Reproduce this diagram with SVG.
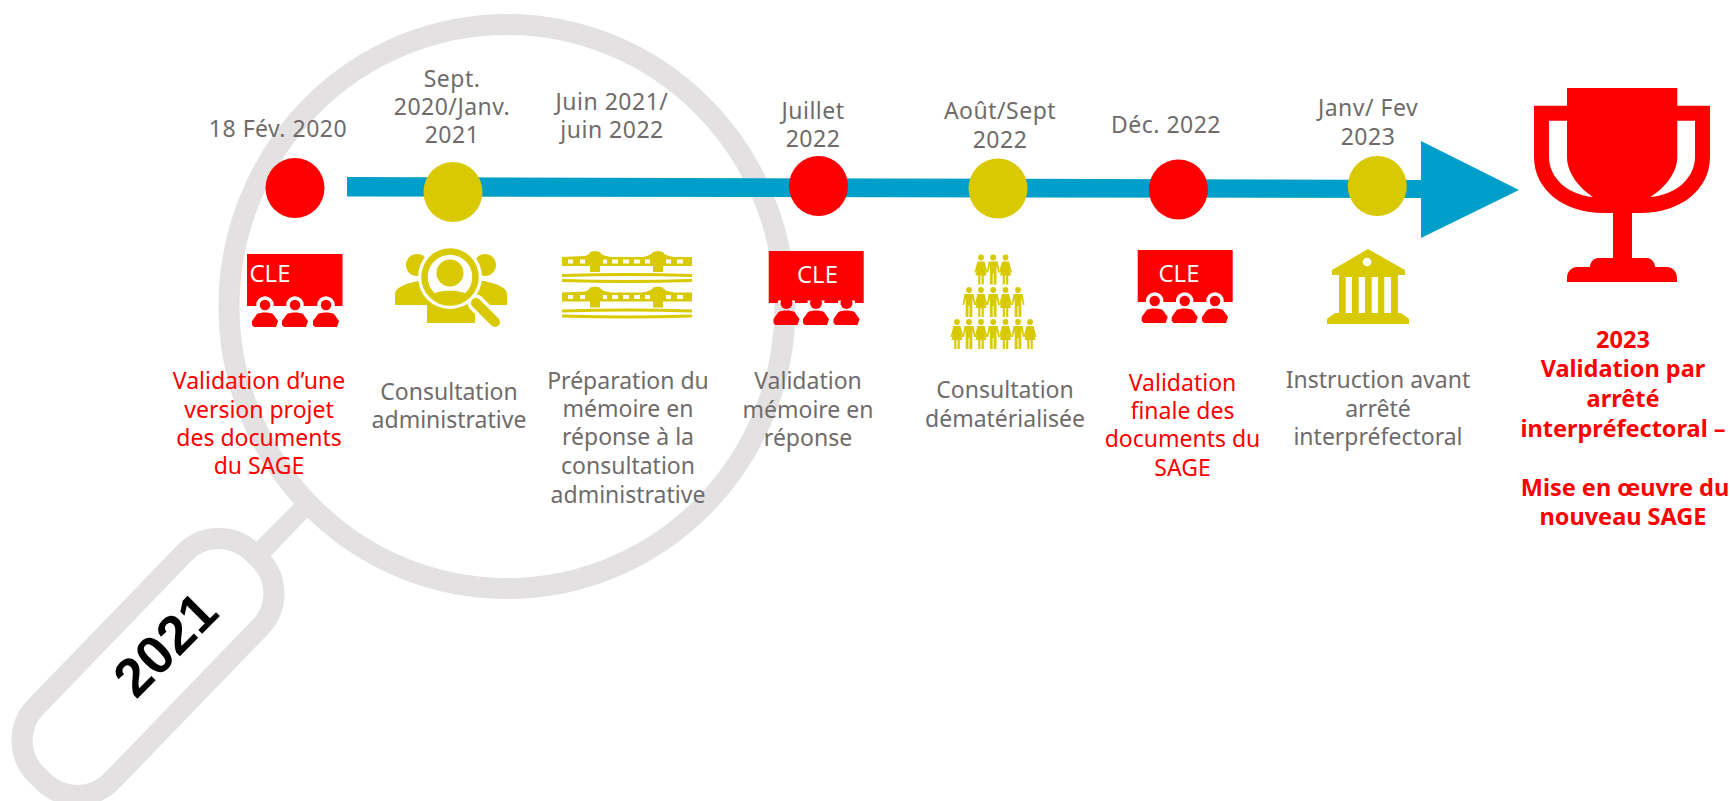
<svg xmlns="http://www.w3.org/2000/svg" xmlns:xlink="http://www.w3.org/1999/xlink" width="1730" height="801" viewBox="0 0 1730 801">
<style>
text{font-family:"Noto Sans","Open Sans","Liberation Sans",sans-serif;font-size:23px;text-anchor:middle;fill:#6f6b6b}
.d{letter-spacing:.5px}
.r{fill:#f00}
.b{fill:#f00;font-weight:700;font-size:23.500px}
.red{fill:#f00}
.yel{fill:#d9c900}
.ring{fill:none;stroke:#e3e1e2;stroke-width:21}
.cle{font-size:24px;fill:#fff;font-family:"Open Sans","Noto Sans",sans-serif}
</style>
<defs>
<path id="torso" class="red" d="M-13,20 L-13,16 L-8,9 C-4,7 4,7 8,9 L13,16 L11,22 L-11,22 Z"/>
<g id="att"><circle cx="0" cy="0" r="7" class="red" stroke="#fff" stroke-width="3.500"/><use xlink:href="#torso" href="#torso"/></g>
<g id="att2"><rect x="-8.500" y="-2.500" width="17" height="3" fill="#fff"/><circle cx="0" cy="0" r="6" class="red"/><use xlink:href="#torso" href="#torso"/></g>
<g id="man" class="yel"><circle cx="0" cy="3" r="2.900"/><path d="M-4.500,7 H4.500 L6.500,18 L5,18 L3.300,11 V30 H0.500 V19 H-0.500 V30 H-3.300 V11 L-5,18 L-6.500,18 Z"/></g>
<g id="wom" class="yel"><circle cx="0" cy="3" r="2.900"/><path d="M-3.500,7 H3.500 L6.500,18 H5 L3.500,13 L5.500,21 H2.800 V30 H0.600 V21 H-0.600 V30 H-2.800 V21 H-5.500 L-3.500,13 L-5,18 H-6.500 Z"/></g>
<g id="bridge" class="yel"><path d="M562,257 L585,256 C589,255 590,253 590,252 L595,251 L600,252 C600,253 602,256 612,257 H642 C650,256 653,253 653,252 L658,251 L663,252 C663,254 668,256 674,257 L692,257 V266 H663 V272 H653 V266 H600 V272 H590 V266 H562 Z"/><path d="M568,259.500h5v4h-5zM580,259.500h5v4h-5zM603,259.500h4v4h-4zM612,259.500h6v4h-6zM623,259.500h6v4h-6zM634,259.500h6v4h-6zM645,259.500h5v4h-5zM666,259.500h5v4h-5zM677,259.500h6v4h-6z" fill="#fff"/><path d="M562,274 Q627,272 692,274 V277 Q627,275 562,277 Z M562,279 Q627,281 692,279 V282 Q627,284 562,282 Z"/></g>
</defs>

<g id="magnifier">
<ellipse class="ring" cx="507" cy="306.500" rx="278" ry="282"/>
<path d="M297,501 L309,516 L267,560 L253,545 Z" fill="#e3e1e2"/>
<rect class="ring" x="-155" y="-53" width="310" height="106" rx="48" transform="translate(148,667) rotate(-46)"/>
<text transform="translate(165,644) rotate(-45)" y="19" style="font-family:'Liberation Sans',sans-serif;font-size:54px;font-weight:700;fill:#000">2021</text>
</g>

<g id="connectors">
<path id="timeline" d="M347,177 L1421,180 V141 L1519,190 L1421,238 V198 L347,196.500 Z" fill="#009fca"/>
</g>

<g id="n1"><ellipse class="red" cx="295" cy="188" rx="29.500" ry="30"/>
<text class="d" x="278" y="137">18 Fév. 2020</text>
<rect class="red" x="247" y="254" width="95.500" height="52"/><text class="cle" x="270" y="282">CLE</text>
<use xlink:href="#att" href="#att" x="265" y="305"/><use xlink:href="#att" href="#att" x="295" y="305"/><use xlink:href="#att" href="#att" x="326" y="305"/>
<text class="r"><tspan x="259" y="389">Validation d’une</tspan><tspan x="259" y="418">version projet</tspan><tspan x="259" y="446">des documents</tspan><tspan x="259" y="474">du SAGE</tspan></text></g>

<g id="n2"><ellipse class="yel" cx="453" cy="192" rx="29.500" ry="30"/>
<text class="d"><tspan x="452" y="87">Sept.</tspan><tspan x="452" y="115">2020/Janv.</tspan><tspan x="452" y="143">2021</tspan></text>
<g class="yel">
<circle cx="417" cy="265" r="11"/><circle cx="485" cy="265" r="11"/>
<path d="M395,305 V294 C395,288 404,284 418,281 H430 V305 Z"/>
<path d="M507,305 V294 C507,288 498,284 484,281 H472 V305 Z"/>
<path d="M427,323 V300 H475 V323 Z"/>
<circle cx="450" cy="277" r="32" fill="#fff"/>
<path d="M476,303 L495,322" fill="none" stroke="#fff" stroke-width="17" stroke-linecap="round"/>
<circle cx="450" cy="277" r="25.500" fill="none" stroke="#d9c900" stroke-width="6.500"/>
<circle cx="450" cy="273" r="13.500"/>
<path d="M431,296 C436,289 464,289 469,296 C462,303 438,303 431,296 Z"/>
<path d="M476,303 L495,322" fill="none" stroke="#d9c900" stroke-width="10" stroke-linecap="round"/>
</g>
<text><tspan x="449" y="400">Consultation</tspan><tspan x="449" y="428">administrative</tspan></text></g>

<g id="n3">
<text class="d"><tspan x="612" y="110">Juin 2021/</tspan><tspan x="612" y="138">juin 2022</tspan></text>
<use xlink:href="#bridge" href="#bridge"/><use xlink:href="#bridge" href="#bridge" y="35.500"/>
<text><tspan x="628" y="389">Préparation du</tspan><tspan x="628" y="417">mémoire en</tspan><tspan x="628" y="445">réponse à la</tspan><tspan x="628" y="474">consultation</tspan><tspan x="628" y="503">administrative</tspan></text></g>

<g id="n4"><ellipse class="red" cx="818.500" cy="186" rx="29.500" ry="30"/>
<text class="d"><tspan x="813" y="119">Juillet</tspan><tspan x="813" y="147">2022</tspan></text>
<rect class="red" x="768.700" y="251" width="95" height="52"/><text class="cle" x="817.500" y="283">CLE</text>
<use xlink:href="#att2" href="#att2" x="786.500" y="303"/><use xlink:href="#att2" href="#att2" x="816" y="303"/><use xlink:href="#att2" href="#att2" x="846.500" y="303"/>
<text><tspan x="808" y="389">Validation</tspan><tspan x="808" y="418">mémoire en</tspan><tspan x="808" y="446">réponse</tspan></text></g>

<g id="n5"><ellipse class="yel" cx="998" cy="188.500" rx="29.500" ry="30"/>
<text class="d"><tspan x="1000" y="119">Août/Sept</tspan><tspan x="1000" y="148">2022</tspan></text>
<use xlink:href="#wom" href="#wom" x="981" y="254.500"/><use xlink:href="#man" href="#man" x="993.200" y="254.500"/><use xlink:href="#wom" href="#wom" x="1005.500" y="254.500"/>
<use xlink:href="#man" href="#man" x="969" y="287"/><use xlink:href="#wom" href="#wom" x="981" y="287"/><use xlink:href="#man" href="#man" x="993.200" y="287"/><use xlink:href="#wom" href="#wom" x="1005.500" y="287"/><use xlink:href="#man" href="#man" x="1018" y="287"/>
<use xlink:href="#wom" href="#wom" x="957" y="319"/><use xlink:href="#man" href="#man" x="969" y="319"/><use xlink:href="#wom" href="#wom" x="981" y="319"/><use xlink:href="#man" href="#man" x="993.200" y="319"/><use xlink:href="#wom" href="#wom" x="1005.500" y="319"/><use xlink:href="#man" href="#man" x="1018" y="319"/><use xlink:href="#wom" href="#wom" x="1030" y="319"/>
<text><tspan x="1005" y="398">Consultation</tspan><tspan x="1005" y="427">dématérialisée</tspan></text></g>

<g id="n6"><ellipse class="red" cx="1178.400" cy="189.500" rx="29.500" ry="30"/>
<text class="d" x="1166" y="133">Déc. 2022</text>
<rect class="red" x="1137.700" y="250" width="95" height="52"/><text class="cle" x="1179" y="282">CLE</text>
<use xlink:href="#att" href="#att" x="1154.700" y="301"/><use xlink:href="#att" href="#att" x="1184.700" y="301"/><use xlink:href="#att" href="#att" x="1215" y="301"/>
<text class="r"><tspan x="1182.500" y="391">Validation</tspan><tspan x="1182.500" y="419">finale des</tspan><tspan x="1182.500" y="447">documents du</tspan><tspan x="1182.500" y="476">SAGE</tspan></text></g>

<g id="n7"><ellipse class="yel" cx="1377.300" cy="186" rx="29.500" ry="30"/>
<text class="d"><tspan x="1368" y="116">Janv/ Fev</tspan><tspan x="1368" y="145">2023</tspan></text>
<path class="yel" fill-rule="evenodd" d="M1368,249 L1405,270 V275 H1398 V313 H1401 L1409,319 V324 H1327 V319 L1335,313 H1339 V275 H1332 V270 Z M1345.700,277 V313 H1352 V277 Z M1358.700,277 V313 H1365 V277 Z M1371.700,277 V313 H1378 V277 Z M1384.300,277 V313 H1391 V277 Z"/>
<circle cx="1367" cy="262" r="4.300" fill="#fff"/>
<text><tspan x="1378" y="388">Instruction avant</tspan><tspan x="1378" y="417">arrêté</tspan><tspan x="1378" y="445">interpréfectoral</tspan></text></g>

<g id="n8">
<path class="red" d="M1567,88 H1677.300 V105.700 H1710 V157 C1710,190 1680,213 1640,213 H1632 V258 H1647 C1651,258 1655,262 1655,267 H1667 C1673,267 1677,272 1677,278 V282 H1567 V278 C1567,272 1571,267 1577,267 H1590 C1590,262 1594,258 1598,258 H1613 V213 H1604 C1564,213 1534,190 1534,157 V105.700 H1567 Z"/>
<path fill="#fff" d="M1549,120.700 H1567 V157 C1567,172 1578,187 1593,197 C1568,195 1549,178 1549,157 Z M1695,120.700 H1677.300 V157 C1677.300,172 1666,187 1650.500,197 C1676,195 1695,178 1695,157 Z"/>
<text class="b"><tspan x="1623" y="348">2023</tspan><tspan x="1623" y="377">Validation par</tspan><tspan x="1623" y="407">arrêté</tspan><tspan x="1623" y="437">interpréfectoral –</tspan><tspan x="1625" y="496">Mise en œuvre du</tspan><tspan x="1623" y="525">nouveau SAGE</tspan></text></g>
</svg>
